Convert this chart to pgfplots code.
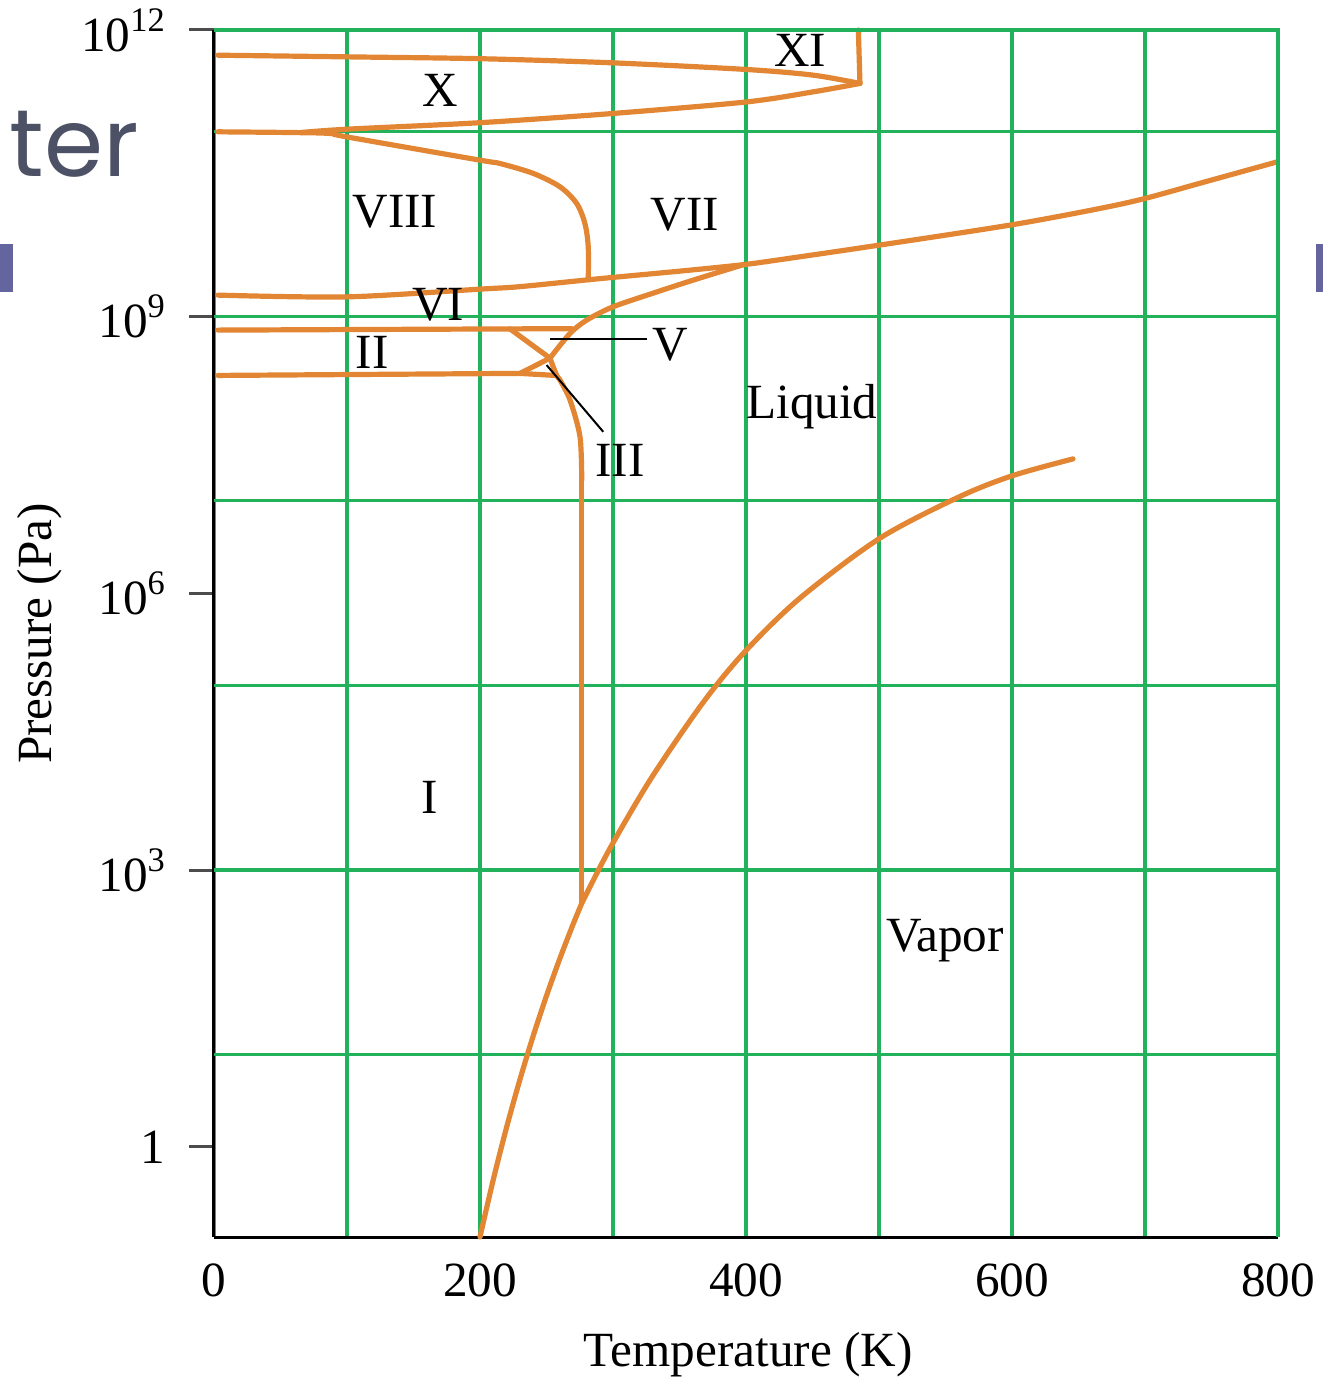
\documentclass[border=0pt]{standalone}
\usepackage{fontspec}
\setmainfont{Liberation Serif}
\newfontfamily\slidefont{Poppins}
\usepackage{pgfplots}
\pgfplotsset{compat=1.18}
\definecolor{gridgreen}{RGB}{34,178,92}
\definecolor{phase}{RGB}{227,134,52}
\definecolor{slidegray}{RGB}{77,81,101}
\definecolor{slidepurple}{RGB}{100,100,158}
\newcommand\lbl{\fontsize{12.3}{14.5}\selectfont}
\newcommand\pw[1]{\raisebox{5pt}{\fontsize{8.6}{9}\selectfont #1}}
\begin{document}
\begin{tikzpicture}
\begin{axis}[
  name=ax,
  scale only axis, width=266pt, height=301.75pt,
  xmin=0, xmax=800, ymode=log, ymin=0.1059, ymax=1.2589e12,
  clip=false,
  axis x line*=bottom, axis y line*=left,
  axis line style={black, line width=0.75pt, -},
  label style={font=\lbl},
  tick label style={font=\lbl},
  xtick={0,200,400,600,800},
  xticklabels={0,200,400,600,800},
  minor xtick={100,300,500,700},
  xmajorgrids, xminorgrids,
  major grid style={gridgreen, line width=0.8pt},
  minor grid style={gridgreen, line width=0.8pt},
  xtick style={draw=none},
  minor x tick style={draw=none},
  ytick={1,1e3,1e6,1e9,1.2589e12},
  yticklabels={1,10\pw{3},10\pw{6},10\pw{9},10\pw{12}},
  ytick style={black!70, line width=0.75pt},
  minor y tick style={draw=none},
  tick align=outside,
  major tick length=6.25pt,
  extra y ticks={10,1e3,1e5,1e7,1e9,1e11,1.2589e12},
  extra y tick style={grid=major, major tick length=0pt, tick style={draw=none}, yticklabel={}},
  yticklabel style={xshift=-2.5pt},
  xticklabel style={yshift=3pt},
  xlabel={Temperature (K)},
  ylabel={Pressure (Pa)},
  xlabel style={at={(axis description cs:0.502,-0.0978)}, anchor=center},
  ylabel style={at={(axis description cs:-0.1635,0.5)}, anchor=center},
  every axis plot/.append style={phase, line width=1.3pt, line join=round, line cap=round},
]
% sublimation curve
\addplot[smooth] coordinates {(200,0.106)(210,0.4436)(220,1.633)(230,5.358)(240,15.96)(250,43.45)(260,109.6)(270,258.2)(276.5,436.5)};
% vaporization curve
\addplot[smooth] coordinates {(276.5,436.5)(297.7,1714)(329,1.002e4)(368,6.607e4)(399.2,2.323e5)(440.6,8.831e5)(500.8,3.945e6)(560.9,1.114e7)(600.8,1.879e7)(645.9,2.844e7)};
% melting curve of ice I
\addplot[sharp plot] coordinates {(276.5,436.5)(276.5,1.675e7)};
\addplot[smooth] coordinates {(276.5,1.675e7)(275.2,4.932e7)(267.7,1.233e8)(260.2,2.028e8)(257.7,2.275e8)(252.6,3.508e8)};
\addplot[smooth] coordinates {(252.6,3.508e8)(267.7,6.501e8)(280.2,9.057e8)(300,1.262e9)(330.1,1.774e9)(360.2,2.455e9)(398.1,3.614e9)};
% VI / VII-VIII boundary and VII-liquid
\addplot[smooth] coordinates {(3,1.690e9)(99.8,1.618e9)(200,1.963e9)(230.1,2.089e9)(282.7,2.489e9)(300,2.630e9)(355.4,3.126e9)(398.1,3.614e9)(425.6,4.093e9)(500,5.875e9)(600,9.772e9)(666.2,1.469e10)(700,1.884e10)(741.4,2.754e10)(799,4.677e10)};
% VIII / VII
\addplot[smooth] coordinates {(3,9.931e10)(60,9.75e10)(87.2,9.528e10)(99.8,8.750e10)(200,4.898e10)(215,4.508e10)(240.1,3.516e10)(260.2,2.518e10)(272.7,1.663e10)(278.9,1.009e10)(281.4,5.636e9)(281.4,2.48e9)};
% X
\addplot[smooth] coordinates {(3,6.714e11)(99.8,6.442e11)(200,6.152e11)(300,5.546e11)(400.5,4.699e11)(450.4,4.083e11)(485.7,3.319e11)};
\addplot[smooth] coordinates {(485.7,3.319e11)(450.6,2.692e11)(400.5,2.094e11)(300,1.570e11)(200,1.247e11)(99.8,1.06e11)(65,9.75e10)};
% XI
\addplot[sharp plot] coordinates {(484.5,1.2589e12)(485.7,3.319e11)};
% II, III, V boundaries
\addplot[sharp plot] coordinates {(3,7.063e8)(222.6,7.278e8)(269,7.328e8)};
\addplot[sharp plot] coordinates {(222.6,7.278e8)(252.6,3.508e8)};
\addplot[sharp plot] coordinates {(3,2.280e8)(230.1,2.399e8)(257.7,2.275e8)};
\addplot[sharp plot] coordinates {(230.1,2.399e8)(252.6,3.508e8)};
% pointers
\draw[black, line width=0.5pt] (axis cs:252.6,5.598e8) -- (axis cs:325.3,5.598e8);
\draw[black, line width=0.5pt] (axis cs:250.1,2.951e8) -- (axis cs:292.7,5.585e7);
% labels
\node[font=\lbl] at (axis cs:169.9,2.805e11) {X};
\node[font=\lbl] at (axis cs:440.6,7.603e11) {XI};
\node[font=\lbl] at (axis cs:136.1,1.340e10) {VIII};
\node[font=\lbl] at (axis cs:354.1,1.242e10) {VII};
\node[font=\lbl] at (axis cs:168.4,1.315e9) {VI};
\node[font=\lbl] at (axis cs:118.8,4.074e8) {II};
\node[font=\lbl] at (axis cs:342.9,4.853e8) {V};
\node[font=\lbl] at (axis cs:449.6,1.035e8) {Liquid};
\node[font=\lbl] at (axis cs:305.3,2.761e7) {III};
\node[font=\lbl] at (axis cs:162.4,6180) {I};
\node[font=\lbl] at (axis cs:549.6,170) {Vapor};
\end{axis}
\draw[gridgreen, line width=0.8pt] (ax.north west) -- (ax.north east) -- (ax.south east);
\begin{scope}[shift={(ax.south west)}, shift={(-53.5pt,309.25pt)}, x=0.25pt, y=-0.25pt]
\fill[slidepurple] (-5,244) rectangle (13,292);
\fill[slidepurple] (1316,244) rectangle (1330,292);
\node[anchor=base west, inner sep=0, text=slidegray, font=\slidefont\fontsize{23.8}{28}\selectfont] at (9,177) {ter};
\end{scope}
\pgfresetboundingbox
\path ([shift={(-53.5pt,-36pt)}]ax.south west) rectangle ([shift={(11.25pt,7.5pt)}]ax.north east);
\end{tikzpicture}
\end{document}
